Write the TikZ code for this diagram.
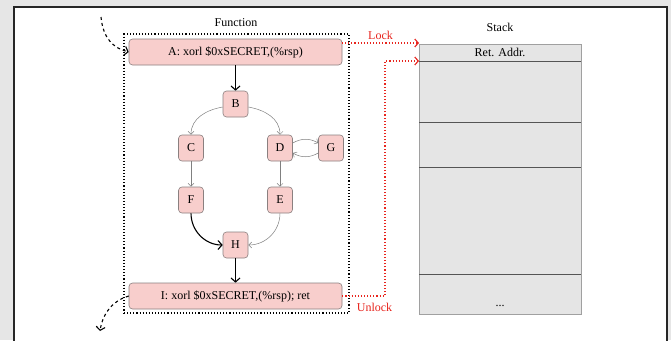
\documentclass[tikz,border=0pt]{standalone}
\usepackage{fontspec}
\setmainfont{Liberation Serif}
\usetikzlibrary{calc,arrows.meta}
\definecolor{pinkfill}{HTML}{F8CECC}
\definecolor{pinkdraw}{HTML}{8A8080}
\definecolor{stackfill}{HTML}{E5E5E5}
\definecolor{stackdraw}{HTML}{A0A0A0}
\definecolor{rowline}{HTML}{555555}
\definecolor{bggrey}{HTML}{E6E6E6}
\definecolor{lockred}{HTML}{E8251E}
\tikzset{
  blk/.style={draw=pinkdraw, fill=pinkfill, rounded corners=3.5pt, line width=0.6pt, inner sep=0pt, font=\fontsize{12}{14}\selectfont},
  wide/.style={blk, minimum width=213pt, minimum height=26pt},
  small/.style={blk, minimum width=25pt, minimum height=26pt},
  thickarr/.style={-{Straight Barb[length=4pt,width=9pt]}, line width=1.1pt, black},
  thinarr/.style={-{Straight Barb[length=3pt,width=6pt]}, line width=0.5pt, gray},
  redarr/.style={-{Straight Barb[length=3.5pt,width=8pt,line width=1.1pt]}, dotted, line width=1.1pt, lockred},
  dasharr/.style={-{Straight Barb[length=3.5pt,width=9pt]}, dashed, line width=1.1pt},
  lbl/.style={font=\fontsize{12}{14}\selectfont, inner sep=0pt},
}
\begin{document}
\begin{tikzpicture}[x=1pt,y=-1pt]
\useasboundingbox (0,0) rectangle (671,340);
\fill[bggrey] (0,0) rectangle (671,340);
\draw[fill=white, draw=black!85, line width=1.2pt] (14,7) -- (14,345) -- (667,345) -- (667,7) -- cycle;

% function box
\node[draw=black, dotted, line width=1.1pt, minimum width=225pt, minimum height=279pt, inner sep=0pt] (fn) at (236.5,173.5) {};
\node[lbl] (fnlbl) at (236,23) {Function};

\node[wide] (A) at (235.5,52) {A: xorl \$0xSECRET,(\%rsp)};
\node[small] (B) at (235.5,104) {B};
\node[small] (C) at (191,148) {C};
\node[small] (D) at (280,148) {D};
\node[small] (G) at (331,148) {G};
\node[small] (F) at (191,200) {F};
\node[small] (E) at (280,200) {E};
\node[small] (H) at (235.5,245) {H};
\node[wide] (I) at (235.5,296) {I: xorl \$0xSECRET,(\%rsp); ret};

\draw[thickarr] (A) -- (B);
\draw[thinarr] ($(B.west)+(0,3)$) to[out=190,in=90] (C.north);
\draw[thinarr] ($(B.east)+(0,3)$) to[out=-10,in=90] (D.north);
\draw[thinarr] (C) -- (F);
\draw[thinarr] (D) -- (E);
\draw[thinarr] ($(D.east)+(0,-5)$) to[bend left=30] ($(G.west)+(0,-5)$);
\draw[thinarr] ($(G.west)+(0,5)$) to[bend left=30] ($(D.east)+(0,5)$);
\draw[thickarr] (F.south) to[out=-90,in=180] (H.west);
\draw[thinarr] (E.south) to[out=-90,in=0] (H.east);
\draw[thickarr] (H) -- (I);

% entry / exit
\coordinate (in0) at (101,17);
\coordinate (out0) at (100,331);
\draw[dasharr] (in0) .. controls (103,38) and (113,48) .. (A.west);
\draw[dasharr] (I.west) .. controls (114,300) and (103,312) .. (out0);

% stack
\node[lbl] (stlbl) at (500,27) {Stack};
\node[draw=stackdraw, fill=stackfill, line width=0.8pt, minimum width=162pt, minimum height=270pt, inner sep=0pt] (stk) at (500,179) {};
\coordinate (r1) at (419,61);
\coordinate (r2) at (419,122);
\coordinate (r3) at (419,167);
\coordinate (r4) at (419,274);
\draw[rowline, line width=0.9pt] (r1) -- ++(162,0);
\draw[rowline, line width=0.9pt] (r2) -- ++(162,0);
\draw[rowline, line width=0.9pt] (r3) -- ++(162,0);
\draw[rowline, line width=0.9pt] (r4) -- ++(162,0);
\node[lbl] (ret) at (500,52) {Ret. Addr.};
\node[lbl] (dots) at (500,306) {...};

% lock / unlock
\coordinate (lk0) at (342,43);
\coordinate (lk1) at (419,43);
\draw[redarr] (lk0) -- (lk1) node[midway, above=3pt, lbl, text=lockred] (lock) {Lock};
\coordinate (ul) at (385,296);
\draw[redarr] (I.east) -- (ul) |- (r1);
\node[lbl, text=lockred] (unlock) at (374.5,307) {Unlock};
\end{tikzpicture}
\end{document}
